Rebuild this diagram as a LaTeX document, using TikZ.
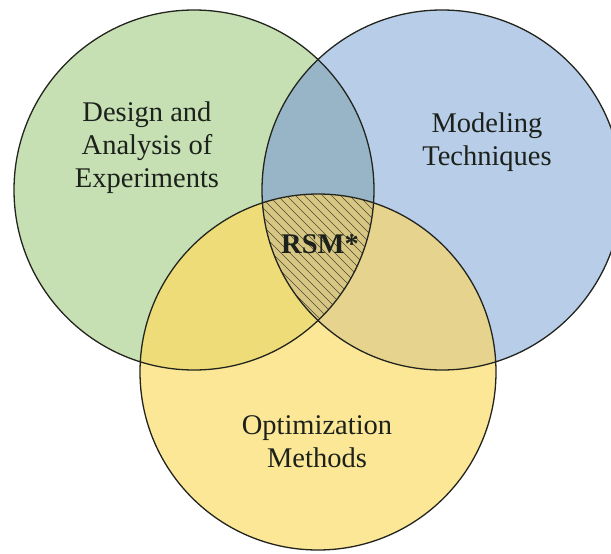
\documentclass[tikz,border=0pt]{standalone}
\usepackage{fontspec}
\setmainfont{Liberation Serif}
\definecolor{vnGreen}{HTML}{C6E0B4}
\definecolor{vnBlue}{HTML}{B8CDE8}
\definecolor{vnYellow}{HTML}{FCE797}
\definecolor{vnGreenBlue}{HTML}{98B5C8}
\definecolor{vnGreenYellow}{HTML}{EEDC78}
\definecolor{vnBlueYellow}{HTML}{E6D38E}
\definecolor{vnCore}{HTML}{D7C783}
\definecolor{vnEdge}{HTML}{22241E}
\definecolor{vnHatch}{HTML}{4E4935}
\definecolor{vnInk}{HTML}{1C211B}
\usetikzlibrary{positioning}

\tikzset{
  ring/.style={draw=vnEdge, line width=1.3pt},
  areatext/.style={inner sep=0pt, align=center, text=vnInk,
    font=\fontsize{28.5}{33}\selectfont},
}

\begin{document}
\begin{tikzpicture}[x=1pt,y=-1pt]
  \useasboundingbox (0,0) rectangle (611,554);
  \coordinate (doe) at (194,190);
  \coordinate (mod) at (442,190);
  \coordinate (opt) at (318,372);
  % Plain discs
  \fill[vnGreen] (doe) circle[radius=180pt];
  \fill[vnBlue] (mod) circle[radius=180pt];
  \fill[vnYellow] (opt) circle[radius=178pt];
  % Pairwise overlaps
  \begin{scope}
    \clip (doe) circle[radius=180pt];
    \fill[vnGreenBlue] (mod) circle[radius=180pt];
    \fill[vnGreenYellow] (opt) circle[radius=178pt];
  \end{scope}
  \begin{scope}
    \clip (mod) circle[radius=180pt];
    \fill[vnBlueYellow] (opt) circle[radius=178pt];
  \end{scope}
  % Hatched core
  \begin{scope}
    \clip (doe) circle[radius=180pt];
    \clip (mod) circle[radius=180pt];
    \fill[vnCore] (opt) circle[radius=178pt];
    \clip (opt) circle[radius=178pt];
    \foreach \x in {100,109,...,400}
      \draw[vnHatch, line width=0.7pt] (\x,180) -- ++(160,160);
  \end{scope}
  % Outlines
  \draw[ring] (doe) circle[radius=180pt];
  \draw[ring] (mod) circle[radius=180pt];
  \draw[ring] (opt) circle[radius=178pt];
  % Labels
  \node[areatext] (doeText) at (147,148) {Design and\\Analysis of\\Experiments};
  \node[areatext] (modText) at (487,142) {Modeling\\Techniques};
  \node[areatext] (optText) at (317,442) {Optimization\\Methods};
  \node[areatext, font=\fontsize{28.5}{33}\selectfont\bfseries] (rsmText) at (320,244.5) {RSM*};
\end{tikzpicture}
\end{document}
